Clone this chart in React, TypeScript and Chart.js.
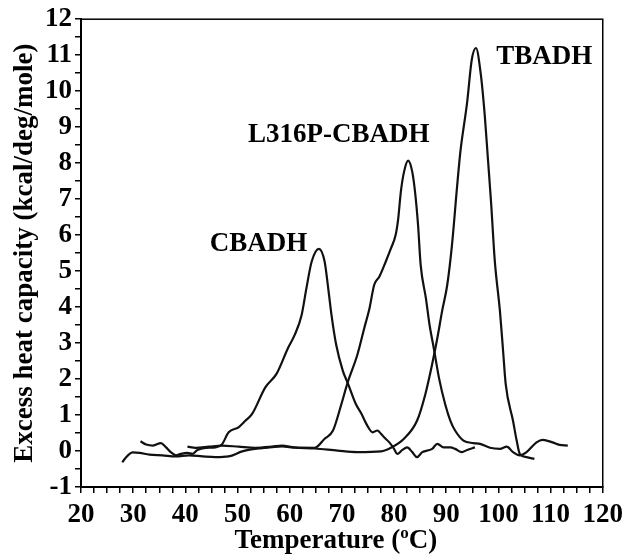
import React, { useEffect, useRef } from 'react';
import { Chart, registerables } from 'chart.js';

Chart.register(...registerables);

const SERIF = "'Liberation Serif', 'Times New Roman', serif";

// CBADH
const cbadhT = [31.4, 32.5, 33.8, 35.3, 36.3, 37.2, 38.2, 39.1, 40.4, 41.4, 42.3, 43.9, 45.8, 47.0, 48.3, 50.2, 51.5, 52.8, 55.3, 57.5, 59.7, 61.0, 62.3, 63.2, 64.2, 65.6, 66.7, 67.3, 68.0, 68.9, 70.2, 71.1, 72.7, 73.7, 74.9, 75.9, 76.8, 77.5, 78.1, 79.1, 80.0, 80.6, 81.6, 82.5, 83.5, 84.4, 85.4, 86.3, 87.3, 88.3, 89.5, 90.8, 91.7, 93.0, 94.0, 95.5];
const cbadhCp = [0.27, 0.18, 0.15, 0.22, 0.10, -0.03, -0.12, -0.08, -0.05, -0.08, 0.03, 0.09, 0.10, 0.18, 0.52, 0.66, 0.84, 1.03, 1.76, 2.15, 2.87, 3.24, 3.79, 4.52, 5.26, 5.62, 5.26, 4.62, 3.79, 2.96, 2.22, 1.90, 1.30, 1.05, 0.70, 0.52, 0.57, 0.48, 0.38, 0.24, 0.06, -0.08, 0.03, 0.10, -0.03, -0.17, -0.03, 0.01, 0.06, 0.20, 0.10, 0.10, 0.06, -0.03, 0.03, 0.10];

// L316P-CBADH
const l316pT = [40.4, 42.0, 44.5, 47.0, 50.2, 53.4, 56.6, 58.5, 61.0, 64.8, 66.7, 68.3, 69.9, 71.1, 73.0, 74.3, 75.3, 76.2, 77.2, 78.4, 79.4, 80.3, 80.8, 81.3, 81.9, 82.7, 83.5, 84.1, 84.6, 85.1, 86.1, 86.8, 87.6, 88.6, 89.8, 90.8, 91.7, 93.3, 95.2, 96.5, 98.4, 100.3, 101.6, 102.8, 104.1, 105.4, 107.3, 108.5, 110.4, 111.7, 113.3];
const l316pCp = [0.12, 0.09, 0.12, 0.15, 0.12, 0.09, 0.12, 0.15, 0.10, 0.09, 0.34, 0.57, 1.30, 1.90, 2.69, 3.42, 3.97, 4.62, 4.85, 5.26, 5.63, 6.00, 6.46, 7.20, 7.75, 8.07, 7.75, 7.10, 6.28, 5.17, 4.25, 3.51, 2.87, 2.04, 1.30, 0.84, 0.57, 0.29, 0.22, 0.20, 0.09, 0.06, 0.12, -0.03, -0.12, -0.03, 0.24, 0.31, 0.24, 0.17, 0.15];

// TBADH
const tbadhT = [27.9, 29.0, 29.9, 31.2, 33.1, 35.6, 38.2, 40.7, 43.3, 45.8, 48.3, 50.9, 52.1, 54.7, 56.6, 58.5, 61.0, 64.8, 69.2, 73.0, 77.5, 79.4, 81.9, 84.4, 86.0, 87.3, 88.3, 89.2, 90.2, 91.1, 92.1, 92.7, 94.0, 94.9, 95.7, 96.6, 97.4, 98.0, 98.6, 99.3, 100.3, 100.9, 101.4, 102.8, 103.5, 104.1, 105.4, 106.9];
const tbadhCp = [-0.31, -0.12, -0.04, -0.05, -0.10, -0.12, -0.15, -0.12, -0.15, -0.17, -0.15, -0.01, 0.03, 0.08, 0.11, 0.13, 0.09, 0.07, 0.01, -0.03, -0.01, 0.09, 0.34, 0.84, 1.58, 2.41, 3.14, 3.88, 4.62, 5.72, 7.38, 8.30, 9.68, 10.88, 11.20, 10.50, 9.30, 8.10, 6.90, 5.30, 3.88, 2.78, 1.86, 0.84, 0.29, -0.08, -0.17, -0.22];

// Curve labels (placed in data coordinates)
const peakLabels = ['CBADH', 'L316P-CBADH', 'TBADH'];
const peakLabelT = [54.0, 69.4, 108.8];
const peakLabelCp = [5.76, 8.77, 10.95];

const xTitleMain = 'Temperature (';
const xTitleSup = 'o';
const xTitleEnd = 'C)';
const yTitle = 'Excess heat capacity (kcal/deg/mole)';

const xMin = 20, xMax = 120, xStep = 2.5, xLabelEvery = 10;
const yMin = -1, yMax = 12, yStep = 0.5;

const toPoints = (xs: number[], ys: number[]) => xs.map((x, i) => ({ x, y: ys[i] }));

const decorPlugin = {
  id: 'decor',
  afterDraw(chart: any) {
    const { ctx, chartArea: a, scales } = chart;
    ctx.save();
    ctx.strokeStyle = '#000';
    ctx.lineWidth = 1.5;
    ctx.strokeRect(a.left, a.top, a.right - a.left, a.bottom - a.top);

    ctx.fillStyle = '#000';
    ctx.font = `bold 27px ${SERIF}`;
    ctx.textAlign = 'center';
    ctx.textBaseline = 'middle';
    peakLabels.forEach((t, i) => {
      ctx.fillText(t, scales.x.getPixelForValue(peakLabelT[i]), scales.y.getPixelForValue(peakLabelCp[i]));
    });

    // x title with superscript
    ctx.textAlign = 'left';
    ctx.textBaseline = 'alphabetic';
    const mainFont = `bold 27px ${SERIF}`;
    const supFont = `bold 17px ${SERIF}`;
    ctx.font = mainFont;
    const w1 = ctx.measureText(xTitleMain).width;
    const w3 = ctx.measureText(xTitleEnd).width;
    ctx.font = supFont;
    const w2 = ctx.measureText(xTitleSup).width;
    const total = w1 + w2 + w3;
    const cx = (a.left + a.right) / 2 - 6;
    const by = a.bottom + 61;
    let x0 = cx - total / 2;
    ctx.font = mainFont;
    ctx.fillText(xTitleMain, x0, by);
    x0 += w1;
    ctx.font = supFont;
    ctx.fillText(xTitleSup, x0, by - 10);
    x0 += w2;
    ctx.font = mainFont;
    ctx.fillText(xTitleEnd, x0, by);

    // y title
    ctx.save();
    ctx.translate(a.left - 49, (a.top + a.bottom) / 2);
    ctx.rotate(-Math.PI / 2);
    ctx.textAlign = 'center';
    ctx.textBaseline = 'alphabetic';
    ctx.font = `bold 27px ${SERIF}`;
    ctx.fillText(yTitle, 0, 0);
    ctx.restore();

    ctx.restore();
  },
};

export default function App() {
  const ref = useRef<HTMLCanvasElement | null>(null);
  useEffect(() => {
    if (!ref.current) return;
    const lineStyle = {
      borderColor: '#111',
      borderWidth: 2.2,
      pointRadius: 0,
      fill: false,
      cubicInterpolationMode: 'monotone' as const,
    };
    const chart = new Chart(ref.current, {
      type: 'line',
      data: {
        datasets: [
          { label: 'CBADH', data: toPoints(cbadhT, cbadhCp), ...lineStyle },
          { label: 'L316P-CBADH', data: toPoints(l316pT, l316pCp), ...lineStyle },
          { label: 'TBADH', data: toPoints(tbadhT, tbadhCp), ...lineStyle },
        ],
      },
      options: {
        responsive: false,
        animation: false,
        layout: { padding: { left: 0, top: 16, right: 22, bottom: 0 } },
        plugins: { legend: { display: false }, tooltip: { enabled: false } },
        scales: {
          x: {
            type: 'linear',
            min: xMin,
            max: xMax,
            afterFit: (s: any) => { s.height = 69; },
            border: { display: true, color: '#000', width: 2 },
            grid: { drawOnChartArea: false, drawTicks: true, tickLength: 6, color: '#000', lineWidth: 1.5 },
            ticks: {
              stepSize: xStep,
              autoSkip: false,
              maxTicksLimit: 1000,
              maxRotation: 0,
              padding: 6,
              color: '#000',
              font: { family: SERIF, size: 27, weight: 'bold' },
              callback: (v: any) => (Math.abs(v % xLabelEvery) < 1e-9 ? String(v) : ''),
            },
          },
          y: {
            type: 'linear',
            min: yMin,
            max: yMax,
            afterFit: (s: any) => { s.width = 81; },
            border: { display: true, color: '#000', width: 2 },
            grid: { drawOnChartArea: false, drawTicks: true, tickLength: 6, color: '#000', lineWidth: 1.5 },
            ticks: {
              stepSize: yStep,
              autoSkip: false,
              maxTicksLimit: 1000,
              padding: 3,
              color: '#000',
              font: { family: SERIF, size: 27, weight: 'bold' },
              callback: (v: any) => (Number.isInteger(v) ? String(v) : ''),
            },
          },
        },
      },
      plugins: [decorPlugin],
    });
    return () => chart.destroy();
  }, []);

  return (
    <div style={{ position: 'fixed', left: 0, top: 0, width: 629, height: 556, background: '#fff' }}>
      <canvas ref={ref} width={629} height={556} style={{ width: 629, height: 556 }} />
    </div>
  );
}
